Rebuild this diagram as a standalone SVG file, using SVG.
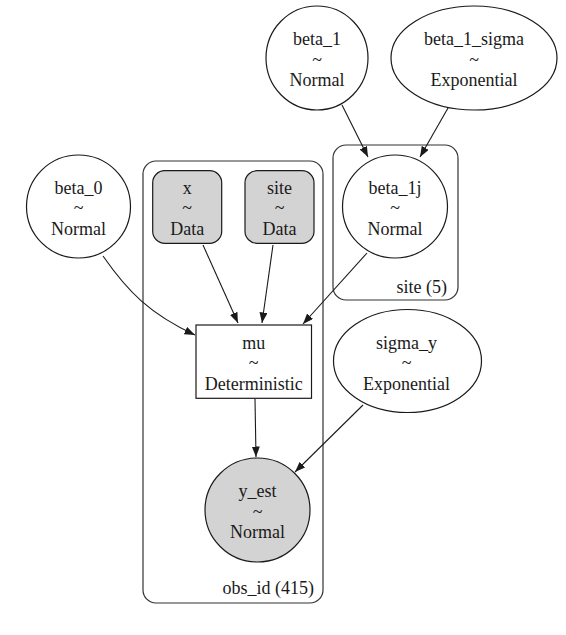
<svg xmlns="http://www.w3.org/2000/svg" width="566" height="635" viewBox="0 0 566 635">
<style>
  text { font-family: "Liberation Serif", "Times New Roman", serif; font-size: 18px; fill: #1a1a1a; text-anchor: middle; }
  .node { fill: #ffffff; stroke: #1a1a1a; stroke-width: 1.2; }
  .obs { fill: #d3d3d3; stroke: #1a1a1a; stroke-width: 1.2; }
  .plate { fill: none; stroke: #333333; stroke-width: 1.2; }
  .edge { fill: none; stroke: #1a1a1a; stroke-width: 1.1; marker-end: url(#arrow); }
  .plabel { text-anchor: end; }
</style>
<defs>
  <marker id="arrow" markerUnits="userSpaceOnUse" markerWidth="11" markerHeight="8" refX="10.5" refY="4" orient="auto">
    <path d="M0,0 L10.5,4 L0,8 z" fill="#1a1a1a"/>
  </marker>
</defs>
<rect width="566" height="635" fill="#ffffff"/>

<g id="plate-obs_id">
  <rect class="plate" x="143" y="161" width="180" height="442" rx="13" ry="13"/>
  <text class="plabel" x="314" y="594">obs_id (415)</text>
</g>
<g id="plate-site">
  <rect class="plate" x="333" y="145" width="125" height="155" rx="13" ry="13"/>
  <text class="plabel" x="447" y="293">site (5)</text>
</g>

<g id="connectors">
  <path class="edge" d="M342,105 L368,157"/>
  <path class="edge" d="M448,108 L420,157"/>
  <path class="edge" d="M103,256 C128,292 150,314 195,335"/>
  <path class="edge" d="M203,245 L238,323"/>
  <path class="edge" d="M273,245 L262,323"/>
  <path class="edge" d="M367,253 L303,324"/>
  <path class="edge" d="M255,399 L256,457"/>
  <path class="edge" d="M363,405 L295,472"/>
</g>

<g id="beta_1">
  <ellipse class="node" cx="317" cy="58" rx="51" ry="52"/>
  <text x="317" y="45">beta_1</text>
  <text x="317" y="65.5">~</text>
  <text x="317" y="86">Normal</text>
</g>
<g id="beta_1_sigma">
  <ellipse class="node" cx="474" cy="58" rx="83" ry="52"/>
  <text x="474" y="45">beta_1_sigma</text>
  <text x="474" y="65.5">~</text>
  <text x="474" y="86">Exponential</text>
</g>
<g id="beta_0">
  <ellipse class="node" cx="78.5" cy="206.5" rx="52" ry="51.5"/>
  <text x="78.5" y="193.5">beta_0</text>
  <text x="78.5" y="214">~</text>
  <text x="78.5" y="234.5">Normal</text>
</g>
<g id="x">
  <rect class="obs" x="152.7" y="170.7" width="69" height="72.6" rx="12" ry="12"/>
  <text x="187.2" y="193.5">x</text>
  <text x="187.2" y="214">~</text>
  <text x="187.2" y="234.5">Data</text>
</g>
<g id="site">
  <rect class="obs" x="245" y="170.7" width="69" height="72.6" rx="12" ry="12"/>
  <text x="279.5" y="193.5">site</text>
  <text x="279.5" y="214">~</text>
  <text x="279.5" y="234.5">Data</text>
</g>
<g id="beta_1j">
  <ellipse class="node" cx="395" cy="206.5" rx="52.5" ry="51.5"/>
  <text x="395" y="193.5">beta_1j</text>
  <text x="395" y="214">~</text>
  <text x="395" y="234.5">Normal</text>
</g>
<g id="mu">
  <rect class="node" x="196" y="325" width="115.5" height="73.3"/>
  <text x="253.7" y="348.5">mu</text>
  <text x="253.7" y="369">~</text>
  <text x="253.7" y="389.5">Deterministic</text>
</g>
<g id="sigma_y">
  <ellipse class="node" cx="407.5" cy="361" rx="74" ry="51.5"/>
  <text x="406.5" y="348.5">sigma_y</text>
  <text x="406.5" y="369">~</text>
  <text x="406.5" y="389.5">Exponential</text>
</g>
<g id="y_est">
  <ellipse class="obs" cx="257.5" cy="510" rx="52.5" ry="52"/>
  <text x="257.5" y="497">y_est</text>
  <text x="257.5" y="517.5">~</text>
  <text x="257.5" y="538">Normal</text>
</g>
</svg>
